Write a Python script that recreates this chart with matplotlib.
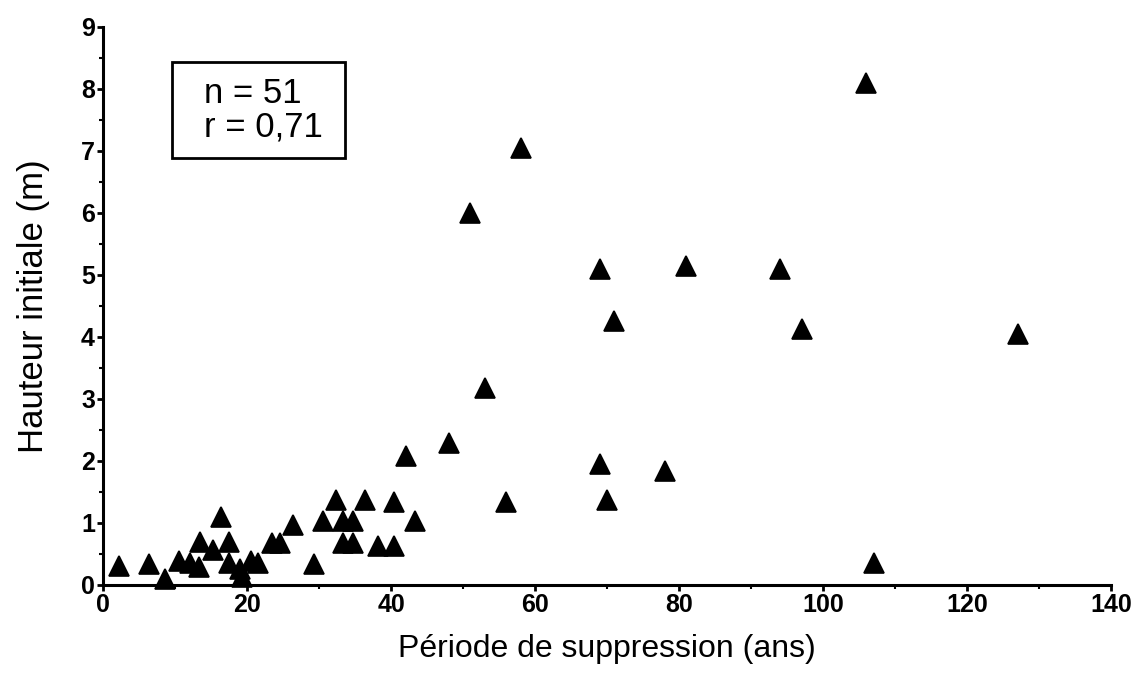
import matplotlib
matplotlib.use('Agg')
import matplotlib.pyplot as plt
from matplotlib.patches import Rectangle
from matplotlib.ticker import MultipleLocator

plt.rcParams['font.family'] = ['Liberation Sans', 'DejaVu Sans']

# Période de suppression (ans)
periode = [106, 58, 51, 69, 81, 94, 71, 97, 127, 53, 48, 42, 69, 78, 56, 70, 107,
           32.3, 36.3, 40.4, 43.3, 38.1, 40.4, 29.3, 26.3, 30.5, 33.3, 34.7, 33.3, 34.7,
           2.2, 6.35, 8.6, 10.5, 12, 13.3, 13.4, 15.2, 16.35, 17.5, 17.4, 19, 19.3,
           20.5, 21.5, 23.5, 24.5]
# Hauteur initiale (m)
hauteur = [8.1, 7.05, 6.0, 5.1, 5.15, 5.1, 4.25, 4.12, 4.05, 3.17, 2.29, 2.08, 1.95, 1.83, 1.33, 1.37, 0.35,
           1.37, 1.37, 1.33, 1.03, 0.63, 0.63, 0.34, 0.96, 1.03, 1.03, 1.03, 0.67, 0.67,
           0.3, 0.34, 0.09, 0.39, 0.35, 0.29, 0.69, 0.56, 1.09, 0.69, 0.36, 0.26, 0.12,
           0.39, 0.35, 0.67, 0.67]

fig = plt.figure(figsize=(11.35, 6.73), dpi=100)
ax = fig.add_axes([0.091, 0.131, 0.888, 0.829])

ax.plot(periode, hauteur, linestyle='none', marker='^', markersize=14,
        color='black', markeredgewidth=1.2, clip_on=False, zorder=3)

ax.set_xlim(0, 140)
ax.set_ylim(0, 9)
ax.xaxis.set_major_locator(MultipleLocator(20))
ax.xaxis.set_minor_locator(MultipleLocator(10))
ax.yaxis.set_major_locator(MultipleLocator(1))
ax.yaxis.set_minor_locator(MultipleLocator(0.5))

for side in ['top', 'right']:
    ax.spines[side].set_visible(False)
for side in ['left', 'bottom']:
    ax.spines[side].set_linewidth(2.2)

ax.tick_params(which='major', direction='out', length=4, width=2, labelsize=18, pad=2)
ax.tick_params(which='minor', direction='out', length=3, width=1.5)
for lab in ax.get_xticklabels() + ax.get_yticklabels():
    lab.set_fontweight('bold')

ax.set_xlabel('Période de suppression (ans)', fontsize=23, labelpad=12)
ax.set_ylabel('Hauteur initiale (m)', fontsize=25, labelpad=22)

# encadré n / r
ax.add_patch(Rectangle((0.068, 0.765), 0.172, 0.172, transform=ax.transAxes,
                       facecolor='white', edgecolor='black', linewidth=2, zorder=4))
ax.text(0.100, 0.851, 'n = 51\nr = 0,71', transform=ax.transAxes, fontsize=25,
        va='center', ha='left', linespacing=1.0, zorder=5)

fig.savefig('out.png', dpi=100, facecolor='white')
